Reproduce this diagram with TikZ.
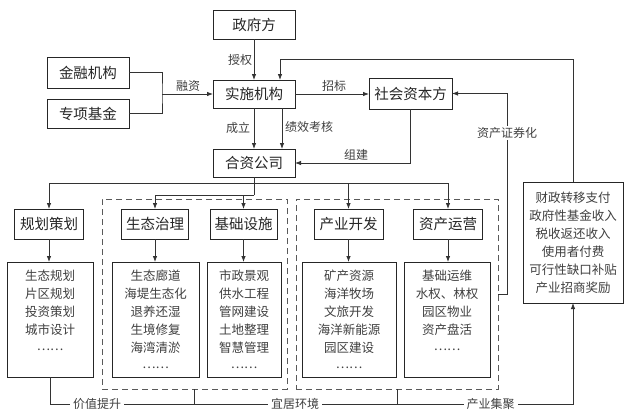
\documentclass[tikz,border=0pt]{standalone}
\usepackage{fontspec}
\setmainfont{Noto Sans CJK SC}
\usetikzlibrary{arrows.meta}
\newcommand{\mydots}{\raisebox{2.5pt}{……}}
\tikzset{
  every node/.style={inner sep=0pt, outer sep=0pt},
  box/.style={draw=black!85, line width=1pt, text=black!85, font=\fontsize{14.5}{16}\selectfont},
  listbox/.style={draw=black!85, line width=1pt},
  listtext/.style={text=black!75, font=\fontsize{12.5}{18}\selectfont, align=center},
  dashbox/.style={draw=black!65, line width=1pt, dash pattern=on 6pt off 4pt},
  lab/.style={text=black!75, font=\fontsize{12}{14}\selectfont},
  onlab/.style={lab, fill=white, inner xsep=3pt, inner ysep=1pt},
  conn/.style={draw=black!80, line width=0.8pt},
  arr/.style={conn, -{Latex[length=6pt,width=4.5pt]}},
}
\begin{document}
\begin{tikzpicture}[x=1pt,y=-1pt]
\useasboundingbox[fill=white] (0,0) rectangle (630,416);

% top nodes
\node[box, minimum width=82pt, minimum height=29pt] (gov) at (254,24.5) {政府方};
\node[box, minimum width=82pt, minimum height=28pt] (impl) at (254,94) {实施机构};
\node[box, minimum width=82pt, minimum height=28pt] (jv) at (254,163) {合资公司};
\node[box, minimum width=82pt, minimum height=31pt] (fin) at (88,72.5) {金融机构};
\node[box, minimum width=82pt, minimum height=29pt] (fund) at (88,113.5) {专项基金};
\node[box, minimum width=83pt, minimum height=31pt] (soc) at (410.5,93.5) {社会资本方};

% dashed groups
\node[dashbox, minimum width=185pt, minimum height=190pt] (d1) at (194.5,294) {};
\node[dashbox, minimum width=202pt, minimum height=190pt] (d2) at (397,294) {};

% row 2
\node[box, minimum width=69pt, minimum height=30pt] (plan) at (49,224) {规划策划};
\node[box, minimum width=67pt, minimum height=30pt] (eco) at (155,224) {生态治理};
\node[box, minimum width=67pt, minimum height=30pt] (infra) at (243.5,224) {基础设施};
\node[box, minimum width=69pt, minimum height=30pt] (ind) at (348.5,224) {产业开发};
\node[box, minimum width=69pt, minimum height=30pt] (asset) at (448,224) {资产运营};

% row 3
\node[listbox, minimum width=86pt, minimum height=115pt] (planL) at (50,319.5) {};
\node[listbox, minimum width=87pt, minimum height=115pt] (ecoL) at (155.5,319.5) {};
\node[listbox, minimum width=74pt, minimum height=115pt] (infraL) at (244,319.5) {};
\node[listbox, minimum width=94pt, minimum height=115pt] (indL) at (349,319.5) {};
\node[listbox, minimum width=86pt, minimum height=115pt] (assetL) at (447,319.5) {};

\node[listtext, anchor=north] (planT) at (50,270) {生态规划\\片区规划\\投资策划\\城市设计\\\mydots};
\node[listtext, anchor=north] (ecoT) at (155.5,270) {生态廊道\\海堤生态化\\退养还湿\\生境修复\\海湾清淤\\\mydots};
\node[listtext, anchor=north] (infraT) at (244,270) {市政景观\\供水工程\\管网建设\\土地整理\\智慧管理\\\mydots};
\node[listtext, anchor=north] (indT) at (349,270) {矿产资源\\海洋牧场\\文旅开发\\海洋新能源\\园区建设\\\mydots};
\node[listtext, anchor=north] (assetT) at (447,270) {基础运维\\水权、林权\\园区物业\\资产盘活\\\mydots};

% revenue box
\node[listbox, listtext, text=black!75, minimum width=100pt, minimum height=121pt] (rev) at (573,242.5)
  {财政转移支付\\政府性基金收入\\税收返还收入\\使用者付费\\可行性缺口补贴\\产业招商奖励};

% connectors top
\draw[arr] (gov) -- (impl);
\node[lab] (l1) at (240,60) {授权};

\coordinate (m) at (162,94);
\draw[conn] (fin.east) -| (m) |- (fund.east);
\draw[arr] (m) -- (impl.west);
\node[lab] (l2) at (188,86) {融资};

\draw[arr] (impl.east) -- (impl.east -| soc.west);
\node[lab] (l3) at (334,86) {招标};

\draw[arr] (impl.south) -- (jv.north);
\node[lab] (l4) at (238,128) {成立};
\draw[arr] ([xshift=28pt]impl.south) -- ([xshift=28pt]jv.north);
\node[lab] (l5) at (309,127) {绩效考核};

\draw[arr] (soc.south) |- (jv.east);
\node[lab] (l6) at (356,155) {组建};

\coordinate (sec) at (507,294);
\draw[arr] (d2.east |- sec) -- (sec) |- (soc.east);
\node[onlab] (l7) at (507,133) {资产证券化};

\coordinate (fb) at (573,59);
\draw[arr] (rev.north) -- (fb) -| ([xshift=26pt]impl.north);

% distribution
\coordinate (j1) at (254,183);
\coordinate (j2) at (254,195);
\draw[conn] (jv.south) -- (j2);
\draw[arr] (j1) -| (plan.north);
\draw[arr] (j1) -| (ind.north);
\draw[arr] (j1) -| (asset.north);
\draw[arr] (j2) -| (eco.north);
\draw[arr] (j2) -| (infra.north);

% row2 -> row3
\draw[arr] (plan.south) -- (plan.south |- planL.north);
\draw[arr] (eco.south) -- (eco.south |- ecoL.north);
\draw[arr] (infra.south) -- (infra.south |- infraL.north);
\draw[arr] (ind.south) -- (ind.south |- indL.north);
\draw[arr] (asset.south) -- (asset.south |- assetL.north);

% bottom
\coordinate (b2) at (573,404);
\draw[arr] (planL.south) |- (b2) -- (rev.south);
\draw[conn] (d1.south) -- (d1.south |- b2);
\draw[conn] (d2.south) -- (d2.south |- b2);
\node[onlab] (l8) at (97,404) {价值提升};
\node[onlab] (l9) at (295,404) {宜居环境};
\node[onlab] (l10) at (490.5,404) {产业集聚};
\end{tikzpicture}
\end{document}
